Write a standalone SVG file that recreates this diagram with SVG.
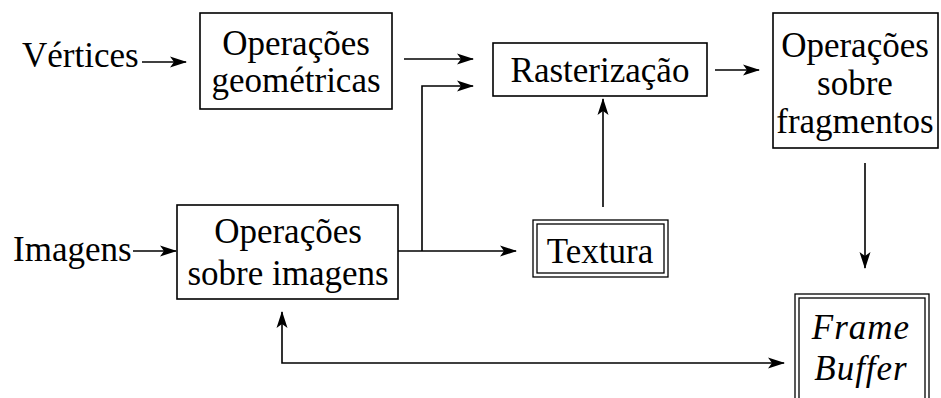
<svg xmlns="http://www.w3.org/2000/svg" width="941" height="398" viewBox="0 0 941 398">
  <style>
    .box { fill: #fff; stroke: #000; stroke-width: 1.6; }
    .dbl { fill: none; stroke: #000; stroke-width: 1.3; }
    .lbl { font-family: "Liberation Serif", "Times New Roman", serif; font-size: 35px; fill: #000; }
    .mid { text-anchor: middle; }
    .it { font-style: italic; letter-spacing: 1px; }
    .wire { fill: none; stroke: #000; stroke-width: 1.6; }
  </style>
  <defs>
    <marker id="arrow" viewBox="0 0 17 12" refX="16" refY="6" markerWidth="17" markerHeight="12" markerUnits="userSpaceOnUse" orient="auto-start-reverse">
      <path d="M0,0.5 L17,6 L0,11.5 L4,6 Z" fill="#000"/>
    </marker>
  </defs>

  <rect width="941" height="398" fill="#fff"/>

  <!-- input labels -->
  <g id="vertices">
    <text class="lbl" x="22" y="67">Vértices</text>
  </g>
  <g id="imagens">
    <text class="lbl" x="13" y="261">Imagens</text>
  </g>

  <!-- processing stages -->
  <g id="op-geometricas">
    <rect class="box" x="200" y="13" width="192" height="96"/>
    <text class="lbl mid" x="296" y="55">Operações</text>
    <text class="lbl mid" x="296" y="92">geométricas</text>
  </g>

  <g id="rasterizacao">
    <rect class="box" x="493" y="43" width="214" height="53"/>
    <text class="lbl mid" x="600" y="82">Rasterização</text>
  </g>

  <g id="op-fragmentos">
    <rect class="box" x="773" y="13" width="165" height="135"/>
    <text class="lbl mid" x="855" y="57">Operações</text>
    <text class="lbl mid" x="855" y="95">sobre</text>
    <text class="lbl mid" x="855" y="133">fragmentos</text>
  </g>

  <g id="op-imagens">
    <rect class="box" x="177" y="205" width="221" height="94"/>
    <text class="lbl mid" x="288" y="243">Operações</text>
    <text class="lbl mid" x="288" y="285">sobre imagens</text>
  </g>

  <!-- storage -->
  <g id="textura">
    <rect class="dbl" x="533" y="220" width="135" height="57"/>
    <rect class="dbl" x="537" y="224" width="127" height="49"/>
    <text class="lbl mid" x="600" y="263">Textura</text>
  </g>

  <g id="frame-buffer">
    <rect class="dbl" x="795" y="294" width="134" height="120"/>
    <rect class="dbl" x="799" y="298" width="126" height="112"/>
    <text class="lbl mid it" x="861" y="339">Frame</text>
    <text class="lbl mid it" x="861" y="380">Buffer</text>
  </g>

  <!-- data flow -->
  <g id="connectors">
    <path class="wire" d="M142,62 H186" marker-end="url(#arrow)"/>
    <path class="wire" d="M404,59 H473" marker-end="url(#arrow)"/>
    <path class="wire" d="M422,251 V86 H473" marker-end="url(#arrow)"/>
    <path class="wire" d="M133,251 H176" marker-end="url(#arrow)"/>
    <path class="wire" d="M398,251 H516" marker-end="url(#arrow)"/>
    <path class="wire" d="M603,207 V99" marker-end="url(#arrow)"/>
    <path class="wire" d="M715,70 H759" marker-end="url(#arrow)"/>
    <path class="wire" d="M865,163 V268" marker-end="url(#arrow)"/>
    <path class="wire" d="M282,312 V363 H784" marker-start="url(#arrow)" marker-end="url(#arrow)"/>
  </g>
</svg>
